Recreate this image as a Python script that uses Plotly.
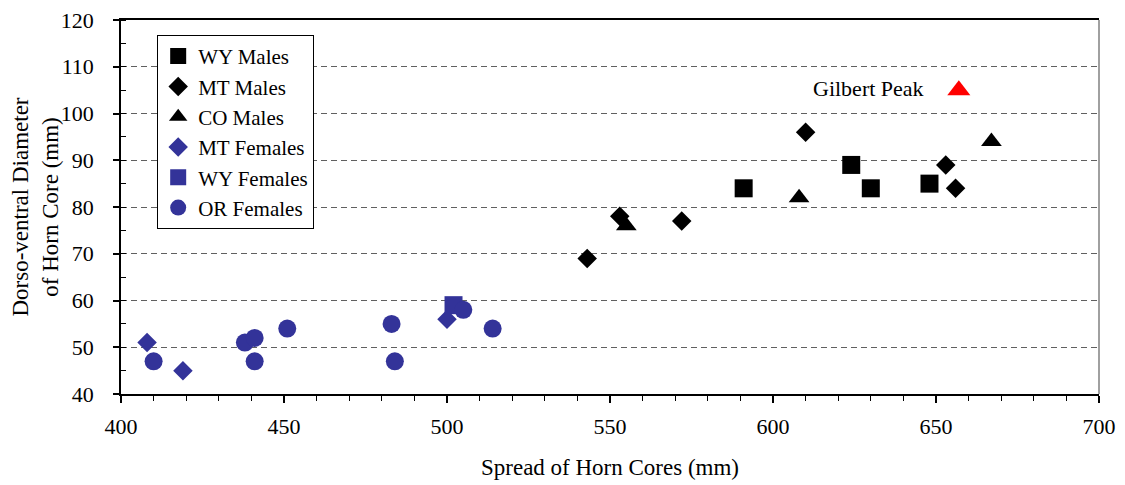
import plotly.graph_objects as go

# ---- data ----
wy_males_x = [591, 624, 630, 648]
wy_males_y = [84, 89, 84, 85]
mt_males_x = [543, 553, 572, 610, 653, 656]
mt_males_y = [69, 78, 77, 96, 89, 84]
co_males_x = [555, 608, 667]
co_males_y = [76, 82, 94]
mt_fem_x = [408, 419, 500]
mt_fem_y = [51, 45, 56]
wy_fem_x = [502]
wy_fem_y = [59]
or_fem_x = [410, 438, 441, 441, 451, 483, 484, 505, 514]
or_fem_y = [47, 51, 52, 47, 54, 55, 47, 58, 54]
gilbert_x = [657]
gilbert_y = [105]
gilbert_label = "Gilbert Peak"

x_ticks = [400, 450, 500, 550, 600, 650, 700]
y_ticks = [40, 50, 60, 70, 80, 90, 100, 110, 120]

FONT = "Liberation Serif, Times New Roman, serif"
BLUE = "#333399"

fig = go.Figure()

def add(name, xs, ys, symbol, color, size, legend=True):
    fig.add_trace(go.Scatter(
        x=xs, y=ys, mode="markers", name=name, showlegend=legend,
        marker=dict(symbol=symbol, color=color, size=size,
                    line=dict(width=0)),
    ))

add("WY Males", wy_males_x, wy_males_y, "square", "black", 18)
add("MT Males", mt_males_x, mt_males_y, "diamond", "black", 15)
add("CO Males", co_males_x, co_males_y, "triangle-up", "black", 18)
add("MT Females", mt_fem_x, mt_fem_y, "diamond", BLUE, 15)
add("WY Females", wy_fem_x, wy_fem_y, "square", BLUE, 18)
add("OR Females", or_fem_x, or_fem_y, "circle", BLUE, 18)
add("Gilbert Peak", gilbert_x, gilbert_y, "triangle-up", "#FF0000", 20, legend=False)

fig.add_annotation(
    x=gilbert_x[0], y=gilbert_y[0], xref="x", yref="y",
    text=gilbert_label, showarrow=False, xanchor="right", yanchor="middle",
    xshift=-33, yshift=2, font=dict(family=FONT, size=22, color="black"),
)

# right border (grey)
fig.add_shape(type="line", xref="x domain", yref="y domain",
              x0=1, x1=1, y0=0, y1=1, line=dict(color="#808080", width=1.5))

# the page body has an 8px default margin, so the figure is 8px smaller
fig.update_layout(
    width=1117, height=477,
    margin=dict(l=113, r=26, t=12, b=91),
    paper_bgcolor="white", plot_bgcolor="white",
    font=dict(family=FONT, size=22, color="black"),
    showlegend=True,
    legend=dict(
        x=0.037, y=0.96, xanchor="left", yanchor="top",
        bordercolor="black", borderwidth=1, bgcolor="white",
        font=dict(family=FONT, size=21, color="black"),
        itemwidth=30, tracegroupgap=0, itemsizing="trace",
    ),
    xaxis=dict(
        range=[400, 700], tickvals=x_ticks, ticktext=[str(v) for v in x_ticks],
        showgrid=False, zeroline=False,
        showline=True, linecolor="black", linewidth=1.5, mirror=True,
        ticks="outside", ticklen=7, tickcolor="black", tickwidth=1.5,
        minor=dict(ticks="outside", dtick=10, ticklen=5, tickcolor="black", tickwidth=1),
        tickfont=dict(family=FONT, size=22), ticklabelstandoff=5,
        ticklabeloverflow="allow",
        title=dict(text="Spread of Horn Cores (mm)", font=dict(family=FONT, size=23),
                   standoff=21),
        automargin=False,
    ),
    yaxis=dict(
        range=[40, 120], tickvals=y_ticks, ticktext=[str(v) for v in y_ticks],
        showgrid=True, gridcolor="#606060", gridwidth=1, griddash="6px,4px",
        zeroline=False,
        showline=True, linecolor="black", linewidth=1.5,
        ticks="outside", ticklen=6, tickcolor="black", tickwidth=1.5,
        minor=dict(ticks="inside", dtick=5, ticklen=5, tickcolor="black", tickwidth=1,
                   showgrid=False),
        tickfont=dict(family=FONT, size=22), ticklabelstandoff=15,
        ticklabeloverflow="allow",
        title=dict(text="Dorso-ventral Diameter<br>of Horn Core (mm)",
                   font=dict(family=FONT, size=23), standoff=5),
        automargin=False,
    ),
)

fig.write_html("out.html")
